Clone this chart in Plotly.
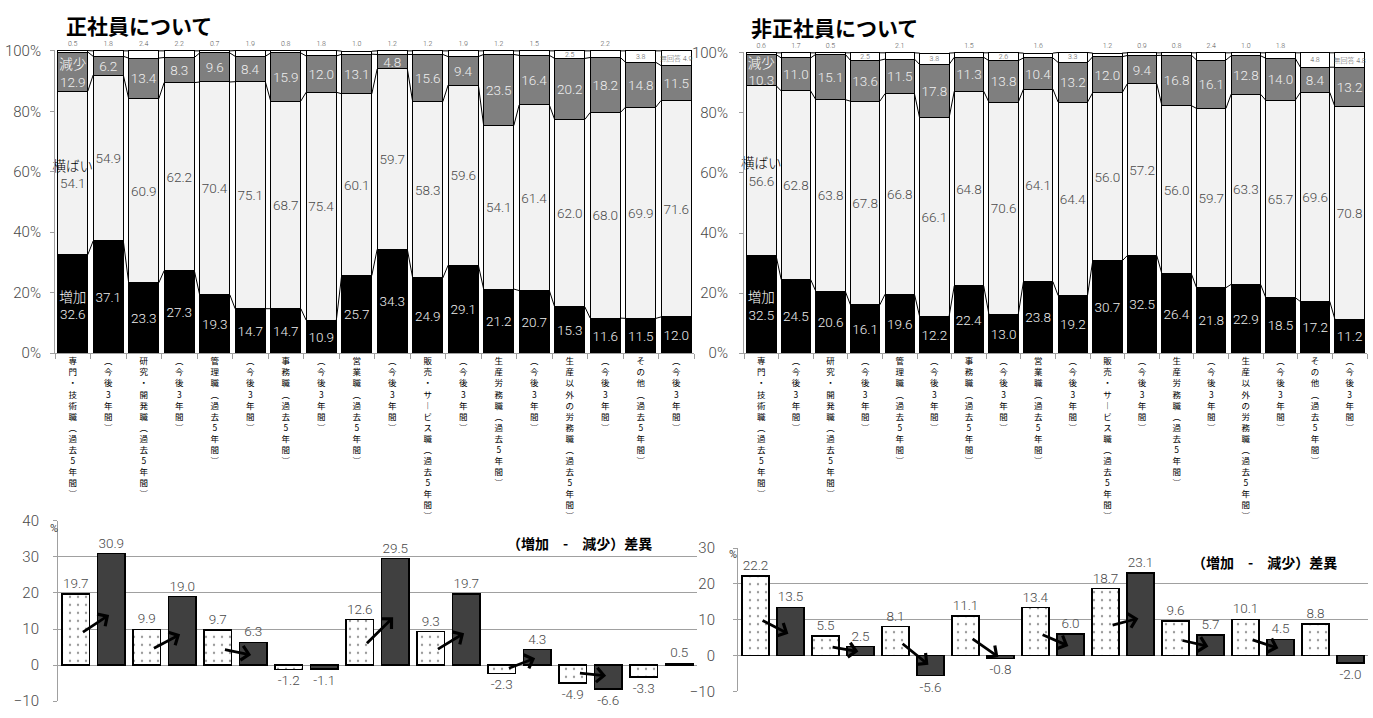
import plotly.graph_objects as go

W, H = 1373, 718

categories = [
    "専門・技術職（過去5年間）", "（今後3年間）",
    "研究・開発職（過去5年間）", "（今後3年間）",
    "管理職（過去5年間）", "（今後3年間）",
    "事務職（過去5年間）", "（今後3年間）",
    "営業職（過去5年間）", "（今後3年間）",
    "販売・サービス職（過去5年間）", "（今後3年間）",
    "生産労務職（過去5年間）", "（今後3年間）",
    "生産以外の労務職（過去5年間）", "（今後3年間）",
    "その他（過去5年間）", "（今後3年間）",
]
series_names = ["増加", "横ばい", "減少", "無回答"]

# 正社員について
reg_increase = [32.6, 37.1, 23.3, 27.3, 19.3, 14.7, 14.7, 10.9, 25.7, 34.3, 24.9, 29.1, 21.2, 20.7, 15.3, 11.6, 11.5, 12.0]
reg_flat = [54.1, 54.9, 60.9, 62.2, 70.4, 75.1, 68.7, 75.4, 60.1, 59.7, 58.3, 59.6, 54.1, 61.4, 62.0, 68.0, 69.9, 71.6]
reg_decrease = [12.9, 6.2, 13.4, 8.3, 9.6, 8.4, 15.9, 12.0, 13.1, 4.8, 15.6, 9.4, 23.5, 16.4, 20.2, 18.2, 14.8, 11.5]
reg_noanswer = [0.5, 1.8, 2.4, 2.2, 0.7, 1.9, 0.8, 1.8, 1.0, 1.2, 1.2, 1.9, 1.2, 1.5, 2.5, 2.2, 3.8, 4.9]

# 非正社員について
non_increase = [32.5, 24.5, 20.6, 16.1, 19.6, 12.2, 22.4, 13.0, 23.8, 19.2, 30.7, 32.5, 26.4, 21.8, 22.9, 18.5, 17.2, 11.2]
non_flat = [56.6, 62.8, 63.8, 67.8, 66.8, 66.1, 64.8, 70.6, 64.1, 64.4, 56.0, 57.2, 56.0, 59.7, 63.3, 65.7, 69.6, 70.8]
non_decrease = [10.3, 11.0, 15.1, 13.6, 11.5, 17.8, 11.3, 13.8, 10.4, 13.2, 12.0, 9.4, 16.8, 16.1, 12.8, 14.0, 8.4, 13.2]
non_noanswer = [0.6, 1.7, 0.5, 2.5, 2.1, 3.8, 1.5, 2.6, 1.6, 3.3, 1.2, 0.9, 0.8, 2.4, 1.0, 1.8, 4.8, 4.8]

# （増加 - 減少）差異
reg_diff_past5 = [19.7, 9.9, 9.7, -1.2, 12.6, 9.3, -2.3, -4.9, -3.3]
reg_diff_next3 = [30.9, 19.0, 6.3, -1.1, 29.5, 19.7, 4.3, -6.6, 0.5]
reg_arrow_flags = [1, 1, 1, 0, 1, 1, 1, 1, 0]
non_diff_past5 = [22.2, 5.5, 8.1, 11.1, 13.4, 18.7, 9.6, 10.1, 8.8]
non_diff_next3 = [13.5, 2.5, -5.6, -0.8, 6.0, 23.1, 5.7, 4.5, -2.0]
non_arrow_flags = [1, 1, 1, 1, 1, 1, 1, 1, 0]

pct_tick_vals = [0, 20, 40, 60, 80, 100]
pct_tick_text = ["0%", "20%", "40%", "60%", "80%", "100%"]
reg_diff_ticks = [-10, 0, 10, 20, 30, 40]
non_diff_ticks = [-10, 0, 10, 20, 30]

NUM_FONT = "Roboto, Noto Sans CJK JP, sans-serif"
JP_FONT = "Noto Sans CJK JP, sans-serif"
AXIS_GRAY = "#a0a0a0"


def px_x(p):
    return p / W


def px_y(p):
    return 1 - p / H


def vertical(label):
    mapping = {"（": "︵", "）": "︶", "ー": "︱"}
    return "<br>".join(mapping.get(c, c) for c in label)


fig = go.Figure()
BAR_W = 0.85
NAME_COLORS = ["white", "black", "white"]


def add_stack(xa, ya, inc, flat, dec, na):
    n = len(inc)
    xs = list(range(n))
    specs = [
        (inc, "#000000", "#eeeeee", 13.5),
        (flat, "#f2f2f2", "#4a4a4a", 13.5),
        (dec, "#7f7f7f", "#eeeeee", 13.5),
        (na, "#ffffff", "#555555", 7),
    ]
    for k, (vals, color, tcolor, fsize) in enumerate(specs):
        texts = [f"{v:.1f}" for v in vals]
        if k < 3:
            texts[0] = (f"<span style='color:{NAME_COLORS[k]}; font-family:Noto Sans CJK JP'>"
                        f"{series_names[k]}</span><br>{vals[0]:.1f}")
            tpos = "inside"
        else:
            texts[-1] = f"{series_names[k]} {vals[-1]:.1f}"
            # tiny no-answer segments get their label just above the bar
            tpos = ["inside" if v >= 2.45 else "outside" for v in vals]
        fig.add_trace(go.Bar(
            x=xs, y=vals, xaxis=xa, yaxis=ya, width=BAR_W,
            marker=dict(color=color, line=dict(color="black", width=1)),
            text=texts, textposition=tpos, insidetextanchor="middle",
            textangle=0, constraintext="none",
            textfont=dict(color=tcolor, size=fsize, family=NUM_FONT, weight=300),
            hoverinfo="skip", showlegend=False, cliponaxis=False,
        ))
    # series connector lines
    levels = []
    c = [0.0] * n
    for vals in (inc, flat, dec, na):
        c = [a + b for a, b in zip(c, vals)]
        levels.append(list(c))
    lx, ly = [], []
    for lev in levels:
        for i in range(n - 1):
            lx += [i + BAR_W / 2, i + 1 - BAR_W / 2, None]
            ly += [lev[i], lev[i + 1], None]
    fig.add_trace(go.Scatter(x=lx, y=ly, xaxis=xa, yaxis=ya, mode="lines",
                             line=dict(color="black", width=1),
                             hoverinfo="skip", showlegend=False, cliponaxis=False))


add_stack("x", "y", reg_increase, reg_flat, reg_decrease, reg_noanswer)
add_stack("x2", "y2", non_increase, non_flat, non_decrease, non_noanswer)

OFF = 0.25
DW = 0.39
annotations = []


def add_diff(xa, ya, past, nxt, flags):
    n = len(past)
    fig.add_trace(go.Bar(
        x=[i - OFF for i in range(n)], y=past, xaxis=xa, yaxis=ya, width=DW,
        marker=dict(color="white", line=dict(color="black", width=1.5),
                    pattern=dict(shape=".", fgcolor="#333333", bgcolor="white",
                                 size=8, solidity=0.07)),
        text=[f"{v:.1f}" for v in past], textposition="outside",
        textfont=dict(color="#4a4a4a", size=13.5, family=NUM_FONT, weight=300),
        hoverinfo="skip", showlegend=False, cliponaxis=False,
    ))
    fig.add_trace(go.Bar(
        x=[i + OFF for i in range(n)], y=nxt, xaxis=xa, yaxis=ya, width=DW,
        marker=dict(color="#404040", line=dict(color="black", width=1.5)),
        text=[f"{v:.1f}" for v in nxt], textposition="outside",
        textfont=dict(color="#4a4a4a", size=13.5, family=NUM_FONT, weight=300),
        hoverinfo="skip", showlegend=False, cliponaxis=False,
    ))
    for i in range(n):
        if flags[i]:
            annotations.append(dict(
                x=i + OFF - 0.03, y=nxt[i] * 0.45,
                ax=i - OFF + 0.08, ay=past[i] * 0.45,
                xref=xa, yref=ya, axref=xa, ayref=ya,
                text="", showarrow=True, arrowhead=4, arrowsize=1,
                arrowwidth=2.8, arrowcolor="black",
            ))


add_diff("x3", "y3", reg_diff_past5, reg_diff_next3, reg_arrow_flags)
add_diff("x4", "y4", non_diff_past5, non_diff_next3, non_arrow_flags)

xticks = dict(
    tickmode="array", tickvals=list(range(len(categories))),
    ticktext=[vertical(c) for c in categories],
    tickfont=dict(family=JP_FONT, size=8.5, color="black"),
    ticks="", showline=True, linecolor=AXIS_GRAY, linewidth=1,
    showgrid=False, zeroline=False, range=[-0.5, len(categories) - 0.5],
    minor=dict(tickmode="array", tickvals=[i - 0.5 for i in range(len(categories) + 1)],
               ticks="outside", ticklen=5, tickcolor=AXIS_GRAY, showgrid=False),
)


def yticks(standoff):
    return dict(
        range=[0, 100.3], tickmode="array", tickvals=pct_tick_vals, ticktext=pct_tick_text,
        ticks="outside", ticklen=4, tickcolor=AXIS_GRAY, showline=True, linecolor=AXIS_GRAY,
        linewidth=1, showgrid=False, zeroline=False, ticklabelstandoff=standoff,
        tickfont=dict(family=NUM_FONT, size=15, color="#4a4a4a", weight=300),
    )


dx = dict(range=[-0.5, 8.5], showticklabels=False, ticks="", showgrid=False,
          zeroline=False, showline=False)


def dy(rng, vals, standoff):
    return dict(range=rng, tickmode="array", tickvals=vals, showgrid=True,
                gridcolor=AXIS_GRAY, gridwidth=1.2, zeroline=False, showline=True,
                linecolor=AXIS_GRAY, linewidth=1, ticks="outside", ticklen=4,
                tickcolor=AXIS_GRAY, ticklabelstandoff=standoff,
                tickfont=dict(family=NUM_FONT, size=15, color="#4a4a4a", weight=300))


fig.update_layout(
    width=W, height=H, margin=dict(l=0, r=0, t=0, b=0),
    paper_bgcolor="white", plot_bgcolor="white",
    barmode="stack", showlegend=False,
    xaxis=dict(domain=[px_x(55), px_x(694)], anchor="y", **xticks),
    yaxis=dict(domain=[px_y(353), px_y(42)], anchor="x", **yticks(6)),
    xaxis2=dict(domain=[px_x(744), px_x(1367)], anchor="y2", **xticks),
    yaxis2=dict(domain=[px_y(353), px_y(44)], anchor="x2", **yticks(8)),
    xaxis3=dict(domain=[px_x(58), px_x(697)], anchor="y3", **dx),
    yaxis3=dict(domain=[px_y(710), px_y(525)], anchor="x3", **dy([-10, 40], reg_diff_ticks, 11)),
    xaxis4=dict(domain=[px_x(738), px_x(1368)], anchor="y4", **dx),
    yaxis4=dict(domain=[px_y(700), px_y(553)], anchor="x4", **dy([-10, 30], non_diff_ticks, 15)),
)

title_font = dict(family=JP_FONT, size=21, color="black")
annotations += [
    dict(text="<b>正社員について</b>", x=px_x(64), y=px_y(16), xref="paper", yref="paper",
         xanchor="left", yanchor="middle", showarrow=False, font=title_font),
    dict(text="<b>非正社員について</b>", x=px_x(749), y=px_y(18), xref="paper", yref="paper",
         xanchor="left", yanchor="middle", showarrow=False, font=title_font),
    dict(text="<b>（増加　-　減少）差異</b>", x=px_x(505), y=px_y(548), xref="paper", yref="paper",
         xanchor="left", yanchor="middle", showarrow=False,
         font=dict(family=JP_FONT, size=14, color="black")),
    dict(text="<b>（増加　-　減少）差異</b>", x=px_x(1190), y=px_y(567), xref="paper", yref="paper",
         xanchor="left", yanchor="middle", showarrow=False,
         font=dict(family=JP_FONT, size=14, color="black")),
    dict(text="%", x=px_x(54), y=px_y(533), xref="paper", yref="paper",
         xanchor="center", yanchor="middle", showarrow=False,
         font=dict(family=NUM_FONT, size=11, color="#404040")),
    dict(text="%", x=px_x(733), y=px_y(560), xref="paper", yref="paper",
         xanchor="center", yanchor="middle", showarrow=False,
         font=dict(family=NUM_FONT, size=11, color="#404040")),
]
fig.update_layout(annotations=annotations)

fig.write_html("out.html")
